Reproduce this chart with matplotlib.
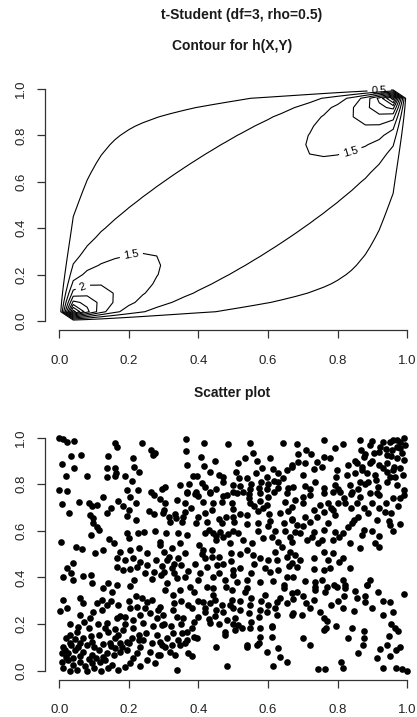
import math
import numpy as np
import matplotlib
matplotlib.use("Agg")
import matplotlib.pyplot as plt

plt.rcParams['font.family'] = ['Liberation Sans', 'DejaVu Sans']

# t copula parameters (from the title) and the contour setup
df = 3
rho = 0.5
grid = np.linspace(0.0, 1.0, 26)
levels = [0.5, 1.0, 1.5, 2.0, 2.5, 3.0, 3.5, 4.0, 4.5]
label_spots = {0.5: [(0.92, 0.985)], 1.5: [(0.836, 0.737), (0.208, 0.27)],
               2.0: [(0.069, 0.141)]}

ticks = [0.0, 0.2, 0.4, 0.6, 0.8, 1.0]
tick_labels = ["0.0", "0.2", "0.4", "0.6", "0.8", "1.0"]

# scatter sample (x, y)
sample = [
    (0.0, .997), (.012, .994), (.023, .983), (.043, .986), (.16, .979), (.167, .959),
    (.237, .976), (.263, .947), (.276, .933), (.269, .926), (.035, .92), (.061, .926),
    (.009, .887), (.043, .872), (.14, .92), (.211, .912), (.215, .876), (.23, .852),
    (.137, .869), (.159, .872), (.163, .847), (.16, .836), (.137, .833), (.188, .837),
    (.02, .837), (.081, .837), (.21, .814), (0.0, .774), (.023, .77), (.196, .776),
    (.227, .776), (.265, .766), (.295, .78),
    (.364, .995), (.417, .976), (.486, .972), (.549, .976), (.643, .976), (.364, .945),
    (.407, .916), (.448, .9), (.368, .883), (.417, .88), (.515, .893), (.534, .912),
    (.556, .933), (.568, .9), (.606, .914), (.582, .871), (.384, .837), (.397, .837),
    (.434, .852), (.458, .84), (.472, .833), (.509, .852), (.518, .829), (.539, .829),
    (.566, .847), (.597, .833), (.614, .866), (.63, .847), (.654, .862), (.669, .876),
    (.616, .814), (.643, .826), (.304, .79), (.347, .797), (.374, .8), (.41, .804),
    (.472, .809), (.499, .797), (.52, .794), (.547, .78), (.573, .783), (.597, .78),
    (.628, .783), (.659, .786), (.366, .769), (.393, .766), (.434, .766), (.499, .766),
    (.528, .769),
    (.683, .972), (.76, .99), (.793, .957), (.817, .972), (.865, .99), (.892, .969),
    (.923, .962), (.952, .983), (.971, .99), (.99, .997), (.995, .969), (.98, .955),
    (.956, .947), (.685, .929), (.71, .947), (.723, .929), (.76, .919), (.779, .914),
    (.867, .947), (.875, .919), (.904, .933), (.942, .926), (.971, .912), (.99, .905),
    (.668, .883), (.687, .897), (.707, .89), (.74, .897), (.755, .876), (.731, .866),
    (.798, .862), (.831, .883), (.856, .89), (.87, .876), (.894, .89), (.918, .883),
    (.942, .89), (.961, .876), (.988, .84), (.702, .84), (.796, .833), (.827, .84),
    (.851, .847), (.886, .847), (.908, .84), (.942, .852), (.966, .833), (.673, .79),
    (.707, .794), (.735, .809), (.76, .786), (.793, .797), (.836, .797), (.865, .809),
    (.889, .811), (.915, .79), (.942, .809), (.971, .797), (.99, .776), (.808, .769),
    (.841, .769), (.913, .762),
    (.96, .99), (.98, .98), (.93, .98), (.9, .985), (.97, .96), (.94, .95),
    (.985, .935), (.955, .92), (.92, .94), (.88, .93), (.96, .86), (.93, .87),
    (.9, .9), (.85, .9), (.98, .87), (.95, .83), (.91, .82), (.87, .86),
    (.007, .715), (.029, .675), (.058, .725), (.084, .718), (.093, .707), (.108, .711),
    (.088, .668), (.098, .654), (.096, .632), (.108, .615), (.113, .604), (.09, .582),
    (.125, .744), (.149, .697), (.138, .675), (.17, .73), (.183, .707), (.199, .69),
    (.194, .664), (.204, .744), (.221, .721), (.221, .647), (.257, .687), (.271, .672),
    (.273, .754), (.29, .735), (.004, .554), (.048, .532), (.064, .521), (.103, .504),
    (.127, .518), (.144, .564), (.158, .55), (.194, .592), (.199, .568), (.225, .592),
    (.244, .597), (.276, .601), (.29, .554), (.175, .511), (.204, .518), (.228, .525),
    (.252, .504), (.167, .482), (.189, .475), (.213, .482), (.232, .468), (.167, .447),
    (.184, .432), (.204, .435), (.223, .443), (.252, .454), (.279, .475), (.295, .45),
    (.247, .418), (.273, .425), (.292, .411), (.266, .392), (.039, .461), (.021, .44),
    (.033, .418), (.012, .401), (.04, .389), (.067, .406), (.091, .411), (.093, .375),
    (.141, .378), (.165, .368), (.215, .39), (.204, .364), (.125, .354),
    (.366, .761), (.39, .758), (.434, .764), (.482, .754), (.51, .764), (.544, .758),
    (.578, .761), (.616, .768), (.654, .764), (.304, .718), (.338, .732), (.412, .725),
    (.441, .718), (.467, .725), (.496, .721), (.547, .721), (.578, .73), (.597, .711),
    (.65, .725), (.299, .675), (.333, .672), (.362, .683), (.419, .678), (.438, .69),
    (.499, .692), (.52, .672), (.541, .668), (.57, .687), (.602, .672), (.635, .675),
    (.659, .687), (.318, .64), (.352, .64), (.393, .635), (.424, .64), (.467, .632),
    (.501, .64), (.539, .63), (.57, .632), (.606, .644), (.645, .632), (.669, .65),
    (.307, .59), (.342, .592), (.368, .582), (.419, .59), (.443, .592), (.462, .597),
    (.486, .587), (.515, .59), (.528, .561), (.554, .55), (.587, .568), (.611, .575),
    (.63, .554), (.664, .575), (.29, .54), (.323, .525), (.347, .547), (.403, .54),
    (.412, .518), (.451, .561), (.491, .547), (.493, .504), (.493, .472), (.556, .497),
    (.578, .482), (.599, .475), (.626, .475), (.654, .49), (.309, .475), (.342, .482),
    (.362, .504), (.419, .482), (.438, .49), (.424, .447), (.453, .454), (.499, .432),
    (.52, .44), (.606, .425), (.63, .432), (.654, .404), (.3, .425), (.323, .44),
    (.338, .396), (.309, .375), (.405, .418), (.443, .404), (.477, .389), (.51, .382),
    (.541, .389), (.578, .382), (.614, .386), (.645, .368), (.376, .361), (.424, .358),
    (.48, .358),
    (.3, .69), (.315, .66), (.335, .655), (.355, .66), (.43, .605), (.45, .58),
    (.47, .575), (.5, .6), (.545, .74), (.56, .705), (.585, .7), (.6, .745),
    (.3, .51), (.315, .49), (.33, .46), (.35, .455), (.37, .43), (.39, .46),
    (.41, .5), (.44, .52), (.46, .49), (.47, .46), (.52, .5), (.54, .52),
    (.56, .46), (.59, .44), (.62, .51), (.64, .53), (.66, .45), (.55, .42),
    (.5, .41), (.46, .42), (.4, .39), (.36, .4), (.33, .42), (.57, .6),
    (.6, .62), (.62, .6), (.65, .6), (.5, .66), (.48, .66), (.46, .65),
    (.4, .66), (.38, .7), (.36, .72), (.4, .75), (.42, .79), (.45, .78),
    (.47, .75), (.55, .8), (.58, .81), (.6, .8), (.63, .81),
    (.678, .733), (.702, .747), (.721, .754), (.76, .761), (.788, .768), (.865, .747),
    (.894, .761), (.918, .754), (.99, .754), (.98, .74), (.973, .707), (.668, .704),
    (.707, .661), (.731, .69), (.75, .711), (.774, .718), (.788, .69), (.793, .668),
    (.822, .718), (.855, .718), (.875, .697), (.889, .675), (.913, .647), (.937, .683),
    (.953, .675), (.947, .644), (.952, .625), (.668, .647), (.683, .625), (.678, .597),
    (.692, .59), (.731, .597), (.726, .575), (.711, .561), (.76, .604), (.774, .632),
    (.793, .597), (.788, .561), (.803, .575), (.817, .59), (.831, .618), (.846, .647),
    (.841, .632), (.87, .582), (.877, .604), (.755, .561), (.745, .547), (.668, .554),
    (.836, .547), (.865, .525), (.908, .547), (.918, .529), (.663, .511), (.678, .497),
    (.692, .475), (.668, .461), (.76, .511), (.788, .504), (.731, .482), (.774, .475),
    (.803, .468), (.817, .482), (.836, .44), (.779, .44), (.76, .432), (.731, .435),
    (.683, .447), (.673, .404), (.707, .386), (.735, .382), (.755, .389), (.79, .368),
    (.817, .389), (.822, .368), (.892, .389), (.884, .368),
    (.7, .62), (.72, .64), (.74, .66), (.76, .68), (.78, .7), (.8, .72), (.82, .74),
    (.84, .76), (.86, .78), (.88, .8), (.9, .72), (.92, .7), (.94, .72), (.96, .74),
    (.7, .72), (.72, .78), (.8, .78), (.84, .7), (.86, .66), (.9, .6), (.92, .58),
    (.96, .6), (.98, .63),
    (.012, .303), (.002, .256), (.021, .268), (.06, .31), (.069, .289), (.098, .254),
    (.06, .239), (.108, .289), (.122, .303), (.137, .282), (.122, .261), (.151, .339),
    (.165, .225), (.175, .236), (.189, .232), (.137, .203), (.204, .268), (.223, .275),
    (.237, .31), (.252, .296), (.266, .303), (.247, .268), (.232, .239), (.261, .246),
    (.285, .261), (.28, .225), (.295, .196), (.213, .218), (.242, .203), (.055, .189),
    (.05, .168), (.084, .182), (.113, .153), (.069, .139), (.093, .125), (.06, .118),
    (.031, .118), (.012, .103), (.007, .075), (.026, .075), (.045, .089), (.069, .082),
    (.093, .068), (.113, .089), (.137, .075), (.007, .039), (.026, .046), (.04, .025),
    (.06, .039), (.074, .018), (.093, .032), (.117, .039), (.127, .06), (.156, .068),
    (.151, .025), (.175, .118), (.16, .139), (.17, .153), (.184, .175), (.194, .125),
    (.175, .082), (.194, .089), (.16, .096), (.213, .182), (.228, .153), (.242, .132),
    (.232, .103), (.223, .075), (.213, .053), (.204, .032), (.232, .018), (.252, .046),
    (.261, .082), (.266, .118), (.28, .153), (.295, .11), (.285, .068), (.276, .032),
    (.088, .225), (.132, .182), (.031, .153), (.146, .118),
    (.01, .01), (.03, 0.0), (.05, .005), (.08, 0.0), (.1, .01), (.12, 0.0), (.14, .01),
    (.17, .005), (.19, .015), (.02, .06), (.04, .055), (.06, .065), (.085, .05),
    (.105, .055), (.13, .045), (.015, .09), (.035, .11), (.055, .1), (.08, .11),
    (.1, .1), (.125, .115), (.15, .105), (.18, .1), (.2, .12), (.02, .14), (.045, .135),
    (.09, .15), (.14, .165), (.16, .18), (.19, .2), (.21, .14), (.23, .13), (.25, .16),
    (.27, .19), (.11, .2), (.07, .21), (.03, .2), (.2, .3), (.22, .32), (.17, .28),
    (.15, .3),
    (.304, .346), (.328, .325), (.347, .346), (.386, .339), (.443, .353), (.443, .325),
    (.448, .303), (.496, .346), (.534, .339), (.541, .353), (.592, .325), (.647, .353),
    (.669, .332), (.414, .296), (.434, .289), (.467, .282), (.496, .303), (.491, .282),
    (.52, .261), (.549, .282), (.578, .261), (.626, .296), (.635, .31), (.654, .289),
    (.669, .239), (.29, .275), (.299, .239), (.328, .261), (.338, .232), (.357, .225),
    (.381, .268), (.419, .254), (.434, .203), (.448, .236), (.482, .218), (.505, .225),
    (.515, .196), (.525, .182), (.549, .182), (.544, .246), (.573, .232), (.576, .185),
    (.597, .254), (.626, .239), (.611, .193), (.386, .211), (.381, .182), (.366, .168),
    (.352, .16), (.326, .16), (.309, .139), (.342, .132), (.366, .132), (.386, .146),
    (.395, .139), (.304, .103), (.323, .11), (.347, .11), (.362, .118), (.318, .082),
    (.333, .068), (.371, .075), (.381, .065), (.477, .168), (.477, .153), (.451, .103),
    (.505, .175), (.539, .103), (.541, .11), (.568, .11), (.573, .118), (.578, .146),
    (.611, .146), (.611, .189), (.597, .082), (.628, .099), (.635, .06), (.654, .036),
    (.614, .022), (.482, .022), (.338, .003), (.29, .068), (.29, .125),
    (.35, .3), (.37, .28), (.4, .3), (.42, .27), (.45, .26), (.47, .25), (.5, .27),
    (.52, .3), (.55, .31), (.58, .3), (.6, .28), (.62, .27), (.3, .2), (.32, .19),
    (.35, .2), (.4, .23), (.43, .22), (.46, .2), (.5, .2), (.55, .21), (.33, .29),
    (.683, .339), (.673, .308), (.735, .346), (.735, .361), (.764, .336), (.769, .361),
    (.798, .361), (.822, .356), (.884, .368), (.915, .336), (.99, .328), (.855, .313),
    (.879, .293), (.952, .293), (.71, .289), (.731, .303), (.817, .271), (.848, .256),
    (.932, .239), (.673, .246), (.697, .239), (.76, .225), (.769, .214), (.76, .175),
    (.767, .185), (.796, .193), (.841, .182), (.875, .17), (.877, .139), (.873, .11),
    (.86, .075), (.953, .199), (.966, .185), (.973, .17), (.947, .15), (.831, .142),
    (.702, .142), (.721, .11), (.942, .11), (.923, .093), (.952, .065), (.969, .089),
    (.98, .103), (.913, .053), (.932, .013), (.745, .008), (.764, .008), (.809, .036),
    (.815, .013), (.969, .01), (.985, .007), (.999, -.001),
    (.7, .32), (.72, .27), (.75, .25), (.78, .28), (.8, .3), (.82, .32), (.85, .34),
    (.88, .32), (.9, .27), (.93, .3), (.96, .25),
]


def qt3(u):
    # quantile of Student t with 3 df: F(t) = 1/2 + (th + sin th cos th)/pi, th = atan(t/sqrt3)
    target = np.pi * (u - 0.5)
    lo = np.full_like(u, -np.pi / 2)
    hi = np.full_like(u, np.pi / 2)
    for _ in range(60):
        mid = (lo + hi) / 2
        f = mid + np.sin(mid) * np.cos(mid)
        lo = np.where(f < target, mid, lo)
        hi = np.where(f >= target, mid, hi)
    return np.sqrt(3) * np.tan((lo + hi) / 2)


def h(u, v):
    """t copula density, taken as 0 on the edge of the unit square."""
    out = np.zeros_like(u)
    inside = (u > 0) & (u < 1) & (v > 0) & (v < 1)
    x, y = qt3(u[inside]), qt3(v[inside])
    nu = df
    c2 = math.gamma((nu + 2) / 2) / (math.gamma(nu / 2) * nu * math.pi * math.sqrt(1 - rho ** 2))
    c1 = math.gamma((nu + 1) / 2) / (math.sqrt(nu * math.pi) * math.gamma(nu / 2))
    q = (x * x - 2 * rho * x * y + y * y) / (nu * (1 - rho ** 2))
    f2 = c2 * (1 + q) ** (-(nu + 2) / 2)
    fx = c1 * (1 + x * x / nu) ** (-(nu + 1) / 2)
    fy = c1 * (1 + y * y / nu) ** (-(nu + 1) / 2)
    out[inside] = f2 / (fx * fy)
    return out


def r_axes(ax):
    ax.set_xlim(-0.04, 1.04)
    ax.set_ylim(-0.04, 1.04)
    for side in ['top', 'right']:
        ax.spines[side].set_visible(False)
    for side in ['left', 'bottom']:
        ax.spines[side].set_bounds(0, 1)
        ax.spines[side].set_color('#333333')
        ax.spines[side].set_linewidth(0.9)
    ax.set_xticks(ticks)
    ax.set_xticklabels(tick_labels)
    ax.set_yticks(ticks)
    ax.set_yticklabels(tick_labels, rotation=90, va='center')
    ax.tick_params(direction='out', length=6, width=0.9, color='#333333',
                   labelsize=9.5, labelcolor='#222222')
    ax.tick_params(axis='x', pad=11.5)
    ax.tick_params(axis='y', pad=7)


fig = plt.figure(figsize=(4.17, 7.17), dpi=100)
W, H = 417, 717

ax1 = fig.add_axes([45.4 / W, 386.7 / H, 375.6 / W, 250.6 / H])
U, V = np.meshgrid(grid, grid)
Z = h(U, V)
plain = [lev for lev in levels if lev not in label_spots]
ax1.contour(U, V, Z, levels=plain, colors='black', linewidths=0.8)
for lev, spots in label_spots.items():
    cs = ax1.contour(U, V, Z, levels=[lev], colors='black', linewidths=0.8)
    cs.clabel(manual=spots, inline=True, fontsize=8, fmt=lambda v: f"{v:g}")
r_axes(ax1)

ax2 = fig.add_axes([45.4 / W, 37 / H, 375.6 / W, 251.6 / H])
pts = np.array(sample)
ax2.plot(pts[:, 0], pts[:, 1], 'o', ms=4.8, color='black', mec='none')
r_axes(ax2)

fig.text(241.7 / W, 1 - 15 / H, 't-Student (df=3, rho=0.5)', ha='center', va='center',
         fontsize=10, fontweight='bold', color='#1a1a1a')
fig.text(232 / W, 1 - 46 / H, 'Contour for h(X,Y)', ha='center', va='center',
         fontsize=10, fontweight='bold', color='#1a1a1a')
fig.text(232 / W, 1 - 393 / H, 'Scatter plot', ha='center', va='center',
         fontsize=10, fontweight='bold', color='#1a1a1a')

fig.savefig('out.png', dpi=100)
